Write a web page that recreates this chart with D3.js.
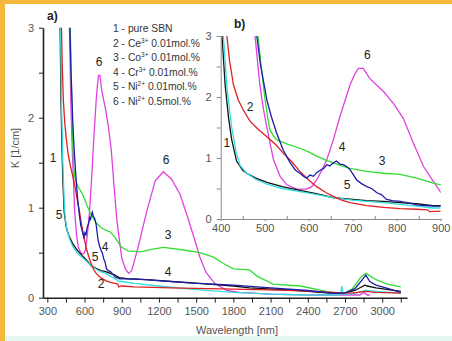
<!DOCTYPE html>
<html>
<head>
<meta charset="utf-8">
<script src="https://cdn.jsdelivr.net/npm/d3@7"></script>
<style>
  body { margin: 0; background: #fff; }
  svg { display: block; font-family: "Liberation Sans", Arial, sans-serif; }
</style>
</head>
<body>
<svg id="chart" width="452" height="341"></svg>
<script>
// series: [wavelength nm, K 1/cm]
const pureSBN = [[395,3.6],[403,3.0],[410,2.2],[418,1.65],[425,1.3],[436,0.95],[450,0.8],[459,0.75],[480,0.67],[505,0.6],[540,0.53],[580,0.47],[620,0.41],[656,0.35],[700,0.32],[732,0.3],[770,0.29],[808,0.27],[845,0.25],[883,0.22],[900,0.22],[950,0.21],[1100,0.2],[1300,0.18],[1530,0.16],[1800,0.13],[1930,0.11],[2200,0.09],[2400,0.07],[2580,0.05],[2700,0.05],[2780,0.08],[2860,0.14],[2880,0.13],[2950,0.11],[3050,0.09],[3150,0.07]];
const ce = [[405,3.6],[414,3.0],[420,2.6],[429,2.2],[440,1.95],[451,1.79],[467,1.6],[485,1.47],[505,1.35],[525,1.22],[542,1.08],[560,0.95],[580,0.78],[600,0.64],[618,0.53],[640,0.43],[656,0.37],[675,0.31],[694,0.27],[732,0.22],[770,0.19],[808,0.17],[845,0.16],[870,0.15],[875,0.12],[900,0.13],[1000,0.12],[1300,0.11],[1600,0.1],[2000,0.09],[2300,0.08],[2600,0.06],[2750,0.05],[2870,0.07],[2950,0.06],[3150,0.05]];
const co = [[478,3.6],[485,3.0],[492,2.5],[500,2.0],[507,1.65],[512,1.46],[520,1.36],[527,1.3],[550,1.23],[580,1.16],[600,1.1],[618,1.03],[640,0.96],[656,0.92],[675,0.87],[694,0.83],[732,0.78],[770,0.75],[808,0.73],[845,0.67],[883,0.59],[900,0.56],[950,0.52],[1050,0.51],[1150,0.54],[1235,0.56],[1400,0.53],[1530,0.5],[1640,0.45],[1720,0.38],[1800,0.32],[1930,0.31],[1990,0.24],[2120,0.15],[2340,0.13],[2550,0.07],[2680,0.04],[2760,0.1],[2830,0.23],[2870,0.27],[2950,0.2],[3040,0.15],[3150,0.12]];
const cr = [[475,3.6],[482,3.0],[490,2.55],[505,1.95],[515,1.68],[527,1.41],[542,1.13],[558,0.92],[570,0.8],[580,0.75],[588,0.7],[595,0.67],[603,0.72],[611,0.7],[618,0.76],[626,0.8],[634,0.83],[641,0.89],[648,0.87],[656,0.92],[663,0.95],[671,0.9],[679,0.89],[686,0.86],[694,0.81],[701,0.73],[709,0.64],[720,0.58],[732,0.53],[743,0.5],[755,0.43],[765,0.4],[777,0.32],[790,0.3],[808,0.29],[830,0.26],[845,0.23],[865,0.22],[883,0.21],[900,0.21],[1000,0.21],[1200,0.19],[1500,0.16],[1800,0.14],[2100,0.11],[2400,0.08],[2600,0.05],[2700,0.05],[2780,0.1],[2840,0.2],[2868,0.25],[2900,0.18],[2950,0.14],[3050,0.1],[3150,0.06]];
const ni001 = [[398,3.6],[406,3.0],[415,2.1],[425,1.5],[435,1.1],[444,0.88],[459,0.75],[480,0.65],[505,0.57],[540,0.5],[580,0.45],[620,0.4],[656,0.35],[700,0.31],[732,0.29],[770,0.27],[808,0.24],[845,0.21],[883,0.18],[900,0.18],[1000,0.16],[1200,0.13],[1500,0.09],[1800,0.06],[2100,0.04],[2400,0.03],[2650,0.03],[2665,0.05],[2675,0.13],[2685,0.04],[2750,0.04],[2870,0.08],[2950,0.07],[3150,0.05]];
const ni05 = [[470,3.6],[478,3.0],[489,2.2],[497,1.8],[505,1.5],[520,0.97],[535,0.7],[550,0.56],[573,0.49],[595,0.49],[607,0.53],[618,0.64],[630,0.8],[641,0.97],[656,1.3],[671,1.68],[694,2.2],[705,2.38],[713,2.47],[724,2.47],[739,2.3],[770,2.09],[792,1.9],[815,1.65],[838,1.24],[861,0.86],[883,0.62],[900,0.44],[930,0.32],[955,0.27],[980,0.3],[1030,0.55],[1100,0.95],[1170,1.3],[1235,1.4],[1300,1.32],[1370,1.15],[1430,0.9],[1480,0.68],[1530,0.45],[1580,0.28],[1650,0.16],[1750,0.08],[1850,0.06],[2100,0.04],[2400,0.03],[2700,0.03],[2820,0.03],[2850,0.06],[2880,0.03],[2900,0.03]];

const seriesData = [ni05, co, pureSBN, ni001, ce, cr];
const seriesColors = ["#e040e0", "#33dd33", "#111111", "#33dddd", "#e02020", "#1c1ca8"];

const legendNum = ["1 - pure SBN", "2 - Ce", "3 - Co", "4 - Cr", "5 - Ni", "6 - Ni"];
const legendSup = ["", "3+", "3+", "3+", "2+", "2+"];
const legendTail = ["", " 0.01mol.%", " 0.01mol.%", " 0.01mol.%", " 0.01mol.%", " 0.5mol.%"];

const xTicksMain = [300, 600, 900, 1200, 1500, 1800, 2100, 2400, 2700, 3000];
const xMinorMain = [450, 750, 1050, 1350, 1650, 1950, 2250, 2550, 2850, 3150];
const yTicks = [0, 1, 2, 3];
const yMinor = [0.5, 1.5, 2.5];
const xTicksInset = [400, 500, 600, 700, 800, 900];
const xMinorInset = [450, 550, 650, 750, 850];

// curve labels [text, nm, K]
const labelsMain = [["1",346,1.56],["5",394,0.92],["6",717,2.62],["6",1257,1.53],["3",1273,0.7],["4",1273,0.29],["4",765,0.57],["5",685,0.45],["2",733,0.15]];
const labelsInset = [["1",414,1.25],["2",467,1.84],["6",733,2.7],["4",676,1.18],["3",767,0.95],["5",687,0.56]];

const svg = d3.select("#chart");

// frame
svg.append("rect").attr("x", 0).attr("y", 0).attr("width", 452).attr("height", 4).attr("fill", "#f5b83f");
svg.append("rect").attr("x", 0).attr("y", 0).attr("width", 5).attr("height", 341).attr("fill", "#f5b83f");
svg.append("rect").attr("x", 5).attr("y", 336).attr("width", 447).attr("height", 5).attr("fill", "#e4f6ef");

function drawPanel(opt) {
  const x = d3.scaleLinear().domain(opt.xDomain).range(opt.xRange);
  const y = d3.scaleLinear().domain([0, 3]).range(opt.yRange);
  const g = svg.append("g");

  const clipId = "clip" + opt.name;
  svg.append("clipPath").attr("id", clipId)
    .append("rect")
    .attr("x", opt.xRange[0]).attr("y", opt.yRange[1])
    .attr("width", opt.xRange[1] - opt.xRange[0])
    .attr("height", opt.yRange[0] - opt.yRange[1]);

  const line = d3.line().x(d => x(d[0])).y(d => y(d[1]));
  g.append("g").attr("clip-path", "url(#" + clipId + ")")
    .selectAll("path")
    .data(seriesData)
    .enter()
    .append("path")
    .attr("d", d => line(d.filter(p => p[0] <= opt.xDomain[1] + 60)))
    .attr("fill", "none")
    .attr("stroke", (d, i) => seriesColors[i])
    .attr("stroke-width", 1.3);

  // axes
  g.append("g")
    .attr("transform", "translate(0," + opt.yRange[0] + ")")
    .call(d3.axisBottom(x).tickValues(opt.xTicks).tickSize(opt.tick).tickSizeOuter(0).tickPadding(opt.xPad).tickFormat(d3.format("d")));
  g.append("g")
    .attr("transform", "translate(0," + opt.yRange[0] + ")")
    .call(d3.axisBottom(x).tickValues(opt.xMinor).tickSize(opt.minorTick).tickSizeOuter(0).tickFormat(""))
    .call(a => a.select(".domain").remove());
  g.append("g")
    .attr("transform", "translate(" + opt.xRange[0] + ",0)")
    .call(d3.axisLeft(y).tickValues(yTicks).tickSize(4).tickSizeOuter(0).tickPadding(5).tickFormat(d3.format("d")));
  g.append("g")
    .attr("transform", "translate(" + opt.xRange[0] + ",0)")
    .call(d3.axisLeft(y).tickValues(yMinor).tickSize(4).tickSizeOuter(0).tickFormat(""))
    .call(a => a.select(".domain").remove());

  g.selectAll(".domain").attr("stroke", opt.axisColor).attr("stroke-width", opt.axisWidth);
  g.selectAll(".tick line").attr("stroke", opt.axisColor);
  g.selectAll(".tick text").attr("fill", "#555").style("font-size", opt.fontSize + "px");

  g.selectAll("text.clabel")
    .data(opt.labels)
    .enter()
    .append("text")
    .attr("class", "clabel")
    .attr("x", d => x(d[1]))
    .attr("y", d => y(d[2]))
    .attr("dy", "0.35em")
    .attr("text-anchor", "middle")
    .attr("fill", "#222")
    .style("font-size", "12px")
    .text(d => d[0]);
  return g;
}

drawPanel({
  name: "a", xDomain: [265, 3200], xRange: [43, 407], yRange: [297.7, 27.7],
  xTicks: xTicksMain, xMinor: xMinorMain, tick: 5, minorTick: 5, xPad: 5,
  axisColor: "#222", axisWidth: 1.6, fontSize: 11, labels: labelsMain
});

drawPanel({
  name: "b", xDomain: [400, 900], xRange: [220.7, 440.7], yRange: [219, 36],
  xTicks: xTicksInset, xMinor: xMinorInset, tick: 2, minorTick: -3, xPad: 3,
  axisColor: "#888", axisWidth: 1, fontSize: 11, labels: labelsInset
});

// panel titles and axis titles
svg.append("text").attr("x", 47).attr("y", 20).style("font-size", "12px").style("font-weight", "bold").attr("fill", "#222").text("a)");
svg.append("text").attr("x", 234).attr("y", 28).style("font-size", "12px").style("font-weight", "bold").attr("fill", "#222").text("b)");
svg.append("text").attr("x", 237).attr("y", 334).attr("text-anchor", "middle").style("font-size", "11px").attr("fill", "#555").text("Wavelength [nm]");
svg.append("text").attr("transform", "translate(19,148) rotate(-90)").attr("text-anchor", "middle").style("font-size", "11px").attr("fill", "#555").text("K [1/cm]");

// legend
const legend = svg.append("g");
legendNum.forEach((t, i) => {
  const txt = legend.append("text")
    .attr("x", 113).attr("y", 32 + i * 14.6)
    .style("font-size", "10.3px").attr("fill", "#333");
  txt.append("tspan").text(t);
  if (legendSup[i]) {
    txt.append("tspan").attr("dy", -4).style("font-size", "6.5px").text(legendSup[i]);
    txt.append("tspan").attr("dy", 4).text(legendTail[i]);
  }
});
</script>
</body>
</html>
